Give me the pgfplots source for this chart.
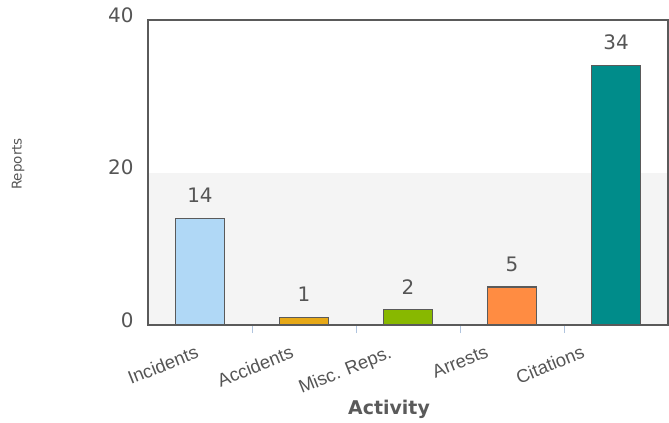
\documentclass[border=0pt]{standalone}
\usepackage{fontspec}
\setmainfont{DejaVu Sans}
\newfontfamily\arialfont{Liberation Sans}
\usepackage{pgfplots}
\pgfplotsset{compat=1.18}

\definecolor{incid}{HTML}{B0D8F6}
\definecolor{accid}{HTML}{E6A817}
\definecolor{misc}{HTML}{88B800}
\definecolor{arrest}{HTML}{FF8C42}
\definecolor{citat}{HTML}{008C8A}
\definecolor{band}{HTML}{F4F4F4}
\definecolor{frame}{HTML}{5A5A5A}
\definecolor{txt}{HTML}{555555}
\definecolor{sep}{HTML}{B0C4DE}

\begin{document}
\begin{tikzpicture}
\path[use as bounding box] (-148bp,-98bp) rectangle (521bp,325bp);
\begin{axis}[
  at={(0,0)}, anchor=south west,
  scale only axis,
  width=520bp, height=305bp,
  axis on top,
  ybar, bar width=49bp, bar shift=0pt,
  xmin=-0.5, xmax=4.5,
  ymin=0, ymax=40,
  ytick={0,20,40},
  % label anchors sit a little left of each bar, as in the source
  xtick={-0.03,0.885,1.827,2.76,3.683},
  xticklabels={Incidents,Accidents,Misc. Reps.,Arrests,Citations},
  minor xtick={0.5,1.5,2.5,3.5},
  xtick pos=bottom,
  major tick length=0pt,
  minor tick length=8bp,
  tick align=outside,
  minor tick style={sep, line width=1bp},
  ytick style={draw=none},
  axis line style={frame, line width=2.8bp},
  tick label style={txt},
  yticklabel style={font=\fontsize{20}{23}\selectfont, anchor=east, xshift=-11bp, yshift=5bp},
  xticklabel style={font=\arialfont\fontsize{18.5}{21}\selectfont, rotate=22, anchor=north east, xshift=-6bp, yshift=-14bp},
  /pgf/number format/assume math mode=true,
  xlabel={\textbf{Activity}},
  xlabel style={font=\fontsize{19}{22}\selectfont, text=frame, at={(axis description cs:0.4635,-0.275)}, anchor=center},
  ylabel={Reports},
  ylabel style={font=\fontsize{13.5}{16}\selectfont, text=txt, at={(axis description cs:-0.25,0.528)}, anchor=center},
  nodes near coords,
  every node near coord/.append style={font=\fontsize{20}{23}\selectfont, text=txt, yshift=11.5bp},
  every axis plot/.append style={draw=frame, line width=1.4bp},
]
\fill[band] (axis cs:-0.5,0) rectangle (axis cs:4.5,20);
\addplot[fill=incid] coordinates {(0,14)};
\addplot[fill=accid] coordinates {(1,1)};
\addplot[fill=misc] coordinates {(2,2)};
\addplot[fill=arrest] coordinates {(3,5)};
\addplot[fill=citat] coordinates {(4,34)};
\end{axis}
\end{tikzpicture}
\end{document}
